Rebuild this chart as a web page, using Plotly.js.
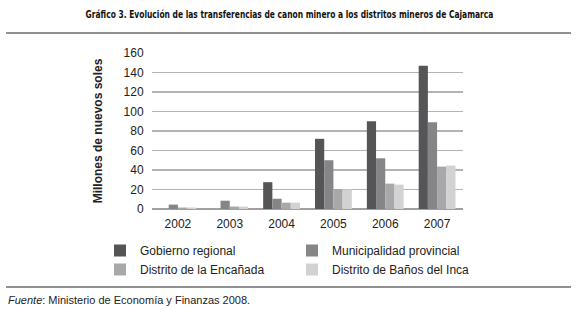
<!DOCTYPE html>
<html>
<head>
<meta charset="utf-8">
<script src="https://cdn.plot.ly/plotly-3.0.1.min.js"></script>
<style>
html,body{margin:0;padding:0;background:#fff;}
#chart{width:579px;height:318px;}
</style>
</head>
<body>
<div id="chart"></div>
<script>
const years = ['2002', '2003', '2004', '2005', '2006', '2007'];
const gobiernoRegional = [0, 0, 27.5, 72, 90, 147];
const municipalidadProvincial = [4.5, 8.5, 10.5, 50, 52, 89];
const distritoEncanada = [1.5, 2.5, 6.5, 20.5, 26, 43.5];
const distritoBanos = [1.5, 2.5, 6.5, 20, 25, 44.5];
const seriesNames = ['Gobierno regional', 'Municipalidad provincial', 'Distrito de la Encañada', 'Distrito de Baños del Inca'];
const seriesColors = ['#555557', '#858587', '#a8a8aa', '#d2d2d2'];
const yTicks = [0, 20, 40, 60, 80, 100, 120, 140, 160];

const seriesValues = [gobiernoRegional, municipalidadProvincial, distritoEncanada, distritoBanos];
const data = seriesValues.map((vals, i) => ({
  type: 'bar',
  x: years,
  y: vals,
  name: seriesNames[i],
  marker: {color: seriesColors[i], line: {width: 0}},
  hoverinfo: 'x+y+name'
}));

const font = 'Liberation Sans, Arial, Helvetica, sans-serif';
const W = 579, H = 318;
const L = 152, R = 463, T = 53, B = 209;
const px = x => (x - L) / (R - L);
const py = y => (B - y) / (B - T);

const layout = {
  width: W, height: H,
  margin: {l: L, r: W - R, t: T, b: H - B, pad: 0},
  paper_bgcolor: '#fff', plot_bgcolor: '#fff',
  font: {family: font, size: 12, color: '#222'},
  barmode: 'group', bargap: 0.29, bargroupgap: 0,
  title: {
    text: 'Gráfico 3. Evolución de las transferencias de canon minero a los distritos mineros de Cajamarca',
    font: {family: 'Liberation Sans Narrow, DejaVu Sans Condensed, Arial Narrow, sans-serif', size: 10, color: '#111', weight: 'bold'},
    x: 0.5, xref: 'container', xanchor: 'center',
    y: 1 - 15 / H, yref: 'container', yanchor: 'middle'
  },
  xaxis: {
    type: 'category', showgrid: false, zeroline: false, showline: false,
    ticks: 'outside', ticklen: 4, tickcolor: 'rgba(0,0,0,0)',
    tickfont: {family: font, size: 12, color: '#222'}, fixedrange: true
  },
  yaxis: {
    range: [0, 160], tickvals: yTicks, ticktext: yTicks.map(String),
    showgrid: true, gridcolor: '#b3b3b3', gridwidth: 1.5,
    zeroline: true, zerolinecolor: '#a0a0a0', zerolinewidth: 1.5,
    showline: false, ticks: 'outside', ticklen: 5, tickcolor: 'rgba(0,0,0,0)',
    tickfont: {family: font, size: 12, color: '#222'},
    title: {text: 'Millones de nuevos soles', font: {family: font, size: 12, color: '#222', weight: 'bold'}, standoff: 18},
    fixedrange: true
  },
  showlegend: true,
  legend: {
    orientation: 'h', x: px(100), y: py(236), xanchor: 'left', yanchor: 'top',
    xref: 'paper', yref: 'paper',
    entrywidth: 147, entrywidthmode: 'pixels',
    font: {family: font, size: 12, color: '#222'},
    traceorder: 'normal', itemclick: false, itemdoubleclick: false,
    bgcolor: 'rgba(0,0,0,0)', tracegroupgap: 0
  },
  shapes: [
    {type: 'line', xref: 'paper', yref: 'paper', x0: px(6), x1: px(571), y0: py(33), y1: py(33), line: {color: '#222', width: 1.2}},
    {type: 'line', xref: 'paper', yref: 'paper', x0: px(6), x1: px(571), y0: py(287), y1: py(287), line: {color: '#222', width: 1.2}}
  ],
  annotations: [
    {text: '<i>Fuente</i>: Ministerio de Economía y Finanzas 2008.', xref: 'paper', yref: 'paper',
     x: px(6), y: py(300), xanchor: 'left', yanchor: 'middle', showarrow: false,
     font: {family: font, size: 11, color: '#222'}}
  ]
};

Plotly.newPlot('chart', data, layout, {displayModeBar: false, staticPlot: true}).then(gd => {
  const t = gd.querySelector('.gtitle');
  if (t) {
    const bb = t.getBBox();
    const cx = bb.x + bb.width / 2;
    const s = 408 / bb.width;
    t.setAttribute('transform', `translate(${cx},0) scale(${s},1) translate(${-cx},0)`);
  }
});
</script>
</body>
</html>
